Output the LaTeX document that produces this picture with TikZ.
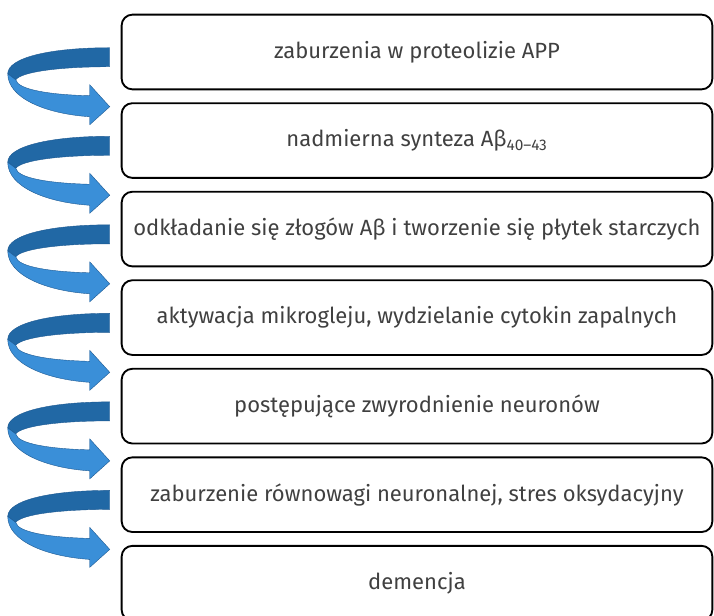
\documentclass[tikz,border=0pt]{standalone}
\usepackage{fontspec}
\setmainfont{Fira Sans}
\usetikzlibrary{positioning}
\definecolor{boxtext}{RGB}{64,64,64}
\definecolor{bandback}{RGB}{33,104,165}
\definecolor{bandfront}{RGB}{58,143,216}
\definecolor{bandedge}{RGB}{28,88,145}
\tikzset{stage/.style={rectangle, draw, line width=1.4pt, rounded corners=8pt, minimum width=443pt,
 minimum height=56pt, inner sep=0pt, text=boxtext, font=\fontsize{16.5}{19}\selectfont}}
\tikzset{loopback/.style={fill=bandback, draw=bandedge, line width=0.3pt}}
\tikzset{loopfront/.style={fill=bandfront, draw=bandedge, line width=0.3pt}}

\begin{document}
\begin{tikzpicture}[x=0.75pt, y=-0.75pt, node distance=9pt]
        \useasboundingbox (0,0) rectangle (714,615);
        \node[stage] (app) at (417,52) {zaburzenia w proteolizie APP};
        \node[stage, below=of app]  (synt) {nadmierna synteza Aβ\textsubscript{40–43}};
        \node[stage, below=of synt] (zlog) {odkładanie się złogów Aβ i tworzenie się płytek starczych};
        \node[stage, below=of zlog] (mikr) {aktywacja mikrogleju, wydzielanie cytokin zapalnych};
        \node[stage, below=of mikr] (neur) {postępujące zwyrodnienie neuronów};
        \node[stage, below=of neur] (stres) {zaburzenie równowagi neuronalnej, stres oksydacyjny};
        \node[stage, below=of stres] (dem) {demencja};

        \foreach \a/\b in {app/synt, synt/zlog, zlog/mikr, mikr/neur, neur/stres, stres/dem}{
          \begin{scope}[shift={(\a.north west)}]
            \path[loopback] (-11,34) .. controls (-71,34) and (-113,44) .. (-113,60) -- (-105,66)
              .. controls (-99,58) and (-61,53) .. (-11,53) -- cycle;
            \path[loopfront] (-113,60) .. controls (-113,84) and (-76,100) .. (-31,103) -- (-31,111)
              -- (-11,93) -- (-31,71) -- (-31,82) .. controls (-71,81) and (-103,76) .. (-105,66) -- cycle;
          \end{scope}
        }
      \end{tikzpicture}
\end{document}
